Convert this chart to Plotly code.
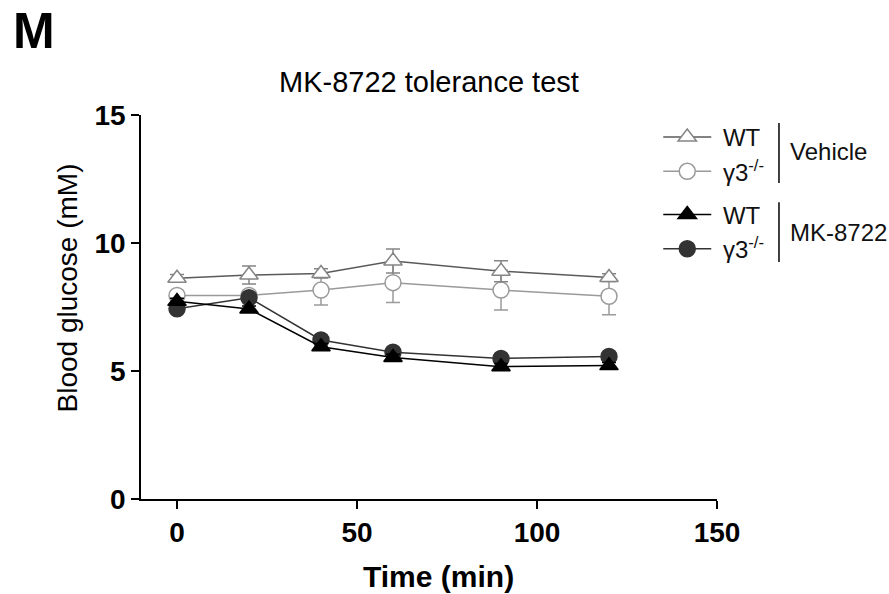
import plotly.graph_objects as go

time_min = [0, 20, 40, 60, 90, 120]

veh_wt = [8.62, 8.75, 8.81, 9.30, 8.90, 8.65]
veh_wt_err = [0.15, 0.35, 0.18, 0.47, 0.41, 0.15]
veh_ko = [7.95, 7.95, 8.16, 8.45, 8.16, 7.92]
veh_ko_err = [0.15, 0.15, 0.58, 0.77, 0.78, 0.72]
mk_wt = [7.72, 7.42, 5.95, 5.53, 5.17, 5.21]
mk_wt_err = [0.12, 0.12, 0.12, 0.12, 0.12, 0.12]
mk_ko = [7.43, 7.86, 6.21, 5.73, 5.49, 5.57]
mk_ko_err = [0.12, 0.12, 0.12, 0.12, 0.12, 0.12]

FONT = "Arial, Liberation Sans, Helvetica, sans-serif"

fig = go.Figure()

def add(y, err, name, group, rank, symbol, mcolor, lcolor, fill):
    fig.add_trace(go.Scatter(
        x=time_min, y=y, name=name, legendgroup=group, legendrank=rank,
        mode="lines+markers",
        line=dict(color=lcolor, width=1.5),
        marker=dict(symbol=symbol, size=16,
                    color=mcolor if fill else "white",
                    line=dict(color=mcolor, width=1.5)),
        error_y=dict(type="data", array=err, visible=True,
                     color=mcolor, thickness=1.5, width=7),
        cliponaxis=False,
    ))

add(veh_ko, veh_ko_err, "&nbsp;γ3<sup>-/-</sup>", "veh", 2, "circle", "#9a9a9a", "#9a9a9a", False)
add(veh_wt, veh_wt_err, "&nbsp;WT", "veh", 1, "triangle-up", "#858585", "#5a5a5a", False)
add(mk_ko, mk_ko_err, "&nbsp;γ3<sup>-/-</sup>", "mk", 4, "circle", "#333333", "#333333", True)
add(mk_wt, mk_wt_err, "&nbsp;WT", "mk", 3, "triangle-up", "#000000", "#000000", True)

fig.update_layout(
    width=889, height=594,
    margin=dict(l=141, r=172, t=115, b=95),
    plot_bgcolor="white", paper_bgcolor="white",
    font=dict(family=FONT, color="black"),
    showlegend=True,
    legend=dict(x=0.898, y=1.0, xanchor="left", yanchor="top",
                traceorder="grouped", tracegroupgap=9,
                font=dict(size=24, color="#111111"), itemwidth=48,
                bgcolor="rgba(0,0,0,0)"),
    xaxis=dict(range=[-10, 150], tickvals=[0, 50, 100, 150],
               showline=True, linecolor="black", linewidth=1.5,
               ticks="outside", ticklen=8, tickwidth=1.5, tickcolor="black",
               showgrid=False, zeroline=False,
               tickfont=dict(size=28, family=FONT, weight="bold")),
    yaxis=dict(range=[0, 15], tickvals=[0, 5, 10, 15],
               showline=True, linecolor="black", linewidth=1.5,
               ticks="outside", ticklen=8, tickwidth=1.5, tickcolor="black",
               showgrid=False, zeroline=False,
               tickfont=dict(size=28, family=FONT, weight="bold")),
    annotations=[
        dict(text="<b>M</b>", x=-0.186, y=1.22, xref="paper", yref="paper",
             showarrow=False, font=dict(size=50, family=FONT), xanchor="center", yanchor="middle"),
        dict(text="MK-8722 tolerance test", x=0.5, y=1.086, xref="paper", yref="paper",
             showarrow=False, font=dict(size=29, family=FONT), xanchor="center", yanchor="middle"),
        dict(text="<b>Time (min)</b>", x=0.517, y=-0.203, xref="paper", yref="paper",
             showarrow=False, font=dict(size=30, family=FONT), xanchor="center", yanchor="middle"),
        dict(text="Blood glucose (mM)", x=-0.128, y=0.549, xref="paper", yref="paper",
             showarrow=False, textangle=-90, font=dict(size=28, family=FONT),
             xanchor="center", yanchor="middle"),
        dict(text="Vehicle", x=1.124, y=0.904, xref="paper", yref="paper",
             showarrow=False, font=dict(size=24, family=FONT, color="#111111"), xanchor="left", yanchor="middle"),
        dict(text="MK-8722", x=1.124, y=0.695, xref="paper", yref="paper",
             showarrow=False, font=dict(size=24, family=FONT, color="#111111"), xanchor="left", yanchor="middle"),
    ],
    shapes=[
        dict(type="line", xref="paper", yref="paper", x0=1.1076, x1=1.1076, y0=0.823, y1=0.979,
             line=dict(color="black", width=1.5)),
        dict(type="line", xref="paper", yref="paper", x0=1.1076, x1=1.1076, y0=0.617, y1=0.773,
             line=dict(color="black", width=1.5)),
    ],
)

fig.write_html("out.html", post_script="document.body.style.margin='0';",
               config={"displayModeBar": False})
